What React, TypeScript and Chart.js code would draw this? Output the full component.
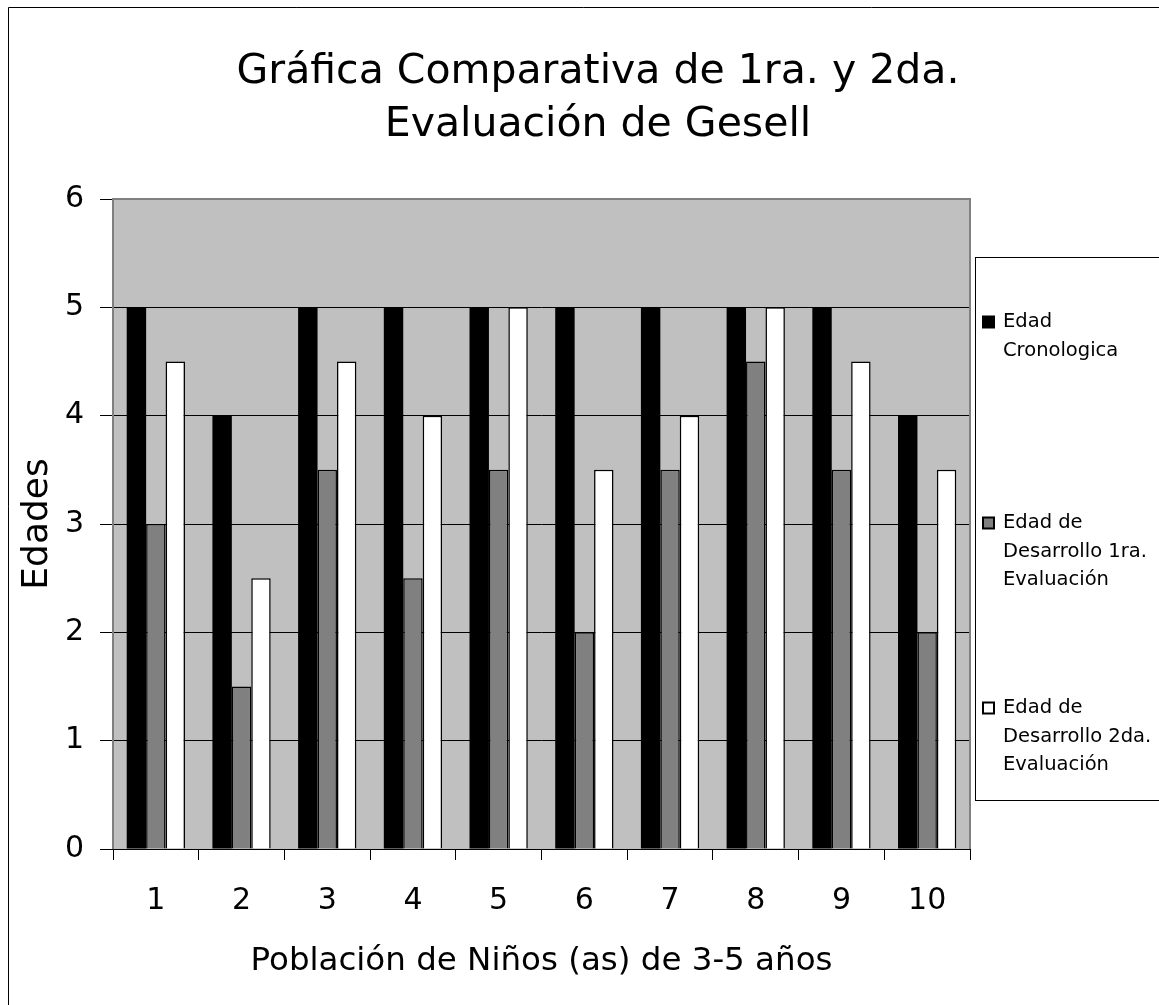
import React, { useEffect, useRef } from 'react';
import { Chart, registerables } from 'chart.js';

Chart.register(...registerables);

const categories = ['1', '2', '3', '4', '5', '6', '7', '8', '9', '10'];
const edadCronologica = [5, 4, 5, 5, 5, 5, 5, 5, 5, 4];
const desarrollo1ra = [3, 1.5, 3.5, 2.5, 3.5, 2, 3.5, 4.5, 3.5, 2];
const desarrollo2da = [4.5, 2.5, 4.5, 4, 5, 3.5, 4, 5, 4.5, 3.5];
const seriesNames = [
  'Edad Cronologica',
  'Edad de Desarrollo 1ra. Evaluación',
  'Edad de Desarrollo 2da. Evaluación',
];
const legendLines = [
  ['Edad', 'Cronologica'],
  ['Edad de', 'Desarrollo 1ra.', 'Evaluación'],
  ['Edad de', 'Desarrollo 2da.', 'Evaluación'],
];
const titleLines = ['Gráfica Comparativa de 1ra. y 2da.', 'Evaluación de Gesell'];
const xTitle = 'Población de Niños (as) de 3-5 años';
const yTitle = 'Edades';
const yMin = 0;
const yMax = 6;
const yStep = 1;

const FONT = '"DejaVu Sans", sans-serif';
const W = 1151;
const H = 998;

const fills = ['#000000', '#808080', '#FFFFFF'];

const decorPlugin = {
  id: 'decor',
  beforeDraw(chart: any) {
    const { ctx, chartArea: a } = chart;
    ctx.save();
    ctx.fillStyle = '#FFFFFF';
    ctx.fillRect(0, 0, chart.width, chart.height);
    ctx.fillStyle = '#C0C0C0';
    ctx.fillRect(a.left, a.top, a.right - a.left, a.bottom - a.top);
    ctx.strokeStyle = '#000';
    ctx.lineWidth = 1;
    ctx.beginPath();
    ctx.moveTo(0.5, chart.height);
    ctx.lineTo(0.5, 0.5);
    ctx.lineTo(chart.width, 0.5);
    ctx.stroke();

    // chart title (centred on the full chart box, which extends past the page)
    ctx.fillStyle = '#000';
    ctx.font = `41px ${FONT}`;
    ctx.textAlign = 'center';
    ctx.textBaseline = 'alphabetic';
    const cx = 590;
    titleLines.forEach((t, i) => {
      ctx.fillText(t, cx, 76 + i * 53);
    });
    ctx.restore();
  },
  afterDraw(chart: any) {
    const { ctx, chartArea: a } = chart;
    ctx.save();
    // plot frame
    ctx.strokeStyle = '#808080';
    ctx.lineWidth = 2;
    ctx.beginPath();
    ctx.moveTo(a.left, a.bottom);
    ctx.lineTo(a.left, a.top);
    ctx.lineTo(a.right, a.top);
    ctx.lineTo(a.right, a.bottom);
    ctx.stroke();

    // legend
    const boxLeft = a.right + 5;
    const boxTop = 250;
    const boxBottom = 793;
    ctx.fillStyle = '#FFFFFF';
    ctx.fillRect(boxLeft, boxTop, chart.width - boxLeft + 5, boxBottom - boxTop);
    ctx.strokeStyle = '#000';
    ctx.lineWidth = 1;
    ctx.strokeRect(boxLeft + 0.5, boxTop + 0.5, chart.width - boxLeft + 10, boxBottom - boxTop);

    const itemY = [315, 516, 701];
    const lineGap = 28.5;
    ctx.font = `19.5px ${FONT}`;
    ctx.textBaseline = 'middle';
    ctx.textAlign = 'left';
    chart.data.datasets.forEach((ds: any, i: number) => {
      const y = itemY[i];
      const sx = boxLeft + 8;
      const size = 11;
      ctx.fillStyle = ds.backgroundColor;
      ctx.fillRect(sx, y - size / 2, size, size);
      ctx.strokeStyle = '#000';
      ctx.lineWidth = 2;
      ctx.strokeRect(sx, y - size / 2, size, size);
      ctx.fillStyle = '#000';
      legendLines[i].forEach((ln, j) => {
        ctx.fillText(ln, boxLeft + 28, y + j * lineGap);
      });
    });
    ctx.restore();
  },
};

export default function App() {
  const ref = useRef<HTMLCanvasElement | null>(null);

  useEffect(() => {
    if (!ref.current) return;
    const chart = new Chart(ref.current, {
      type: 'bar',
      data: {
        labels: categories,
        datasets: [
          {
            label: seriesNames[0],
            data: edadCronologica,
            backgroundColor: fills[0],
            borderColor: '#000',
            borderWidth: 0,
          },
          {
            label: seriesNames[1],
            data: desarrollo1ra,
            backgroundColor: fills[1],
            borderColor: '#000',
            borderWidth: 1.5,
          },
          {
            label: seriesNames[2],
            data: desarrollo2da,
            backgroundColor: fills[2],
            borderColor: '#000',
            borderWidth: 1.5,
          },
        ],
      },
      options: {
        responsive: false,
        animation: false,
        devicePixelRatio: 1,
        datasets: {
          bar: { barPercentage: 1, categoryPercentage: 0.68 },
        },
        layout: { padding: { top: 192, left: 0, right: 189, bottom: 16 } },
        plugins: {
          legend: { display: false },
          tooltip: { enabled: false },
          title: { display: false },
        },
        scales: {
          x: {
            grid: {
              offset: true,
              drawOnChartArea: false,
              drawTicks: true,
              tickLength: 11,
              color: '#000',
              lineWidth: 1,
            },
            border: { display: true, color: '#000', width: 1 },
            ticks: {
              color: '#000',
              font: { family: FONT, size: 30 },
              padding: 23,
              maxRotation: 0,
              autoSkip: false,
            },
            title: {
              display: true,
              text: xTitle,
              color: '#000',
              font: { family: FONT, size: 32.5 },
              padding: { top: 0, bottom: 8 },
            },
            afterFit(s: any) {
              s.height = 140;
            },
          },
          y: {
            min: yMin,
            max: yMax,
            ticks: {
              stepSize: yStep,
              color: '#000',
              font: { family: FONT, size: 30 },
              padding: 16,
            },
            grid: { color: '#000', lineWidth: 1, tickLength: 13, drawTicks: true },
            border: { display: false },
            title: {
              display: true,
              text: yTitle,
              color: '#000',
              font: { family: FONT, size: 36 },
              padding: { top: 8, bottom: 0 },
            },
            afterFit(s: any) {
              s.width = 105;
            },
          },
        },
      } as any,
      plugins: [decorPlugin],
    });
    return () => chart.destroy();
  }, []);

  return (
    <div style={{ position: 'fixed', left: 8, top: 7, width: W, height: H, overflow: 'hidden' }}>
      <canvas ref={ref} width={W} height={H} style={{ width: W, height: H, display: 'block' }} />
    </div>
  );
}
